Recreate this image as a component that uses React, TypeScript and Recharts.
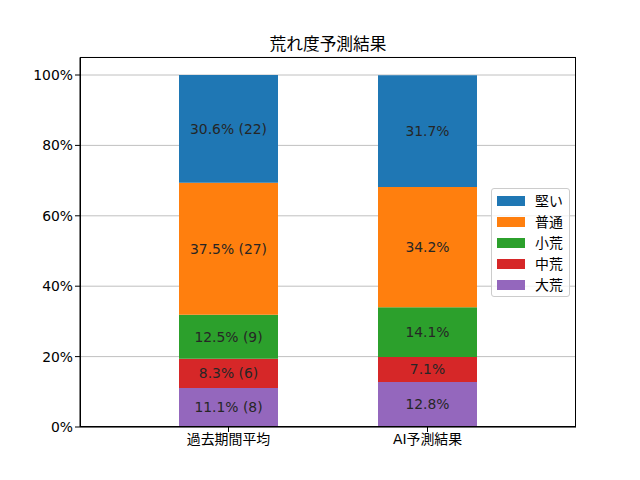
import React from 'react';
import { BarChart, Bar, XAxis, YAxis, CartesianGrid, LabelList } from 'recharts';

const categories = ['過去期間平均', 'AI予測結果'];
const seriesNames = ['大荒', '中荒', '小荒', '普通', '堅い'];
const daiValues = [11.1, 12.8];
const chuValues = [8.3, 7.1];
const shoValues = [12.5, 14.1];
const futsuValues = [37.5, 34.2];
const kataiValues = [30.6, 31.7];
const daiCounts = [8, null];
const chuCounts = [6, null];
const shoCounts = [9, null];
const futsuCounts = [27, null];
const kataiCounts = [22, null];
const yTicks = [0, 20, 40, 60, 80, 100];
const colors = ['#9467bd', '#d62728', '#2ca02c', '#ff7f0e', '#1f77b4'];

const valueSets = [daiValues, chuValues, shoValues, futsuValues, kataiValues];
const countSets = [daiCounts, chuCounts, shoCounts, futsuCounts, kataiCounts];
const keys = ['s0', 's1', 's2', 's3', 's4'];

const data = categories.map((name, i) => {
  const row: any = { name };
  keys.forEach((k, j) => {
    row[k] = valueSets[j][i];
  });
  return row;
});

const FONT = '"DejaVu Sans", "Noto Sans CJK JP", sans-serif';

const makeLabel = (j: number) => (props: any) => {
  const { x, y, width, height, index } = props;
  const v = valueSets[j][index];
  const c = countSets[j][index];
  const text = `${v.toFixed(1)}%` + (c !== null && c !== undefined ? ` (${c})` : '');
  return (
    <text
      x={Number(x) + Number(width) / 2}
      y={Number(y) + Number(height) / 2}
      textAnchor="middle"
      dominantBaseline="central"
      fontSize={13.9}
      fontFamily={FONT}
      fill="#262626"
    >
      {text}
    </text>
  );
};

const LegendBox = () => {
  const order = [4, 3, 2, 1, 0];
  return (
    <div
      style={{
        position: 'absolute',
        left: 491,
        top: 188,
        width: 77,
        height: 107,
        border: '1px solid #cccccc',
        borderRadius: 3,
        background: 'rgba(255,255,255,0.8)',
        fontFamily: FONT,
        fontSize: 13.9,
        color: '#000',
      }}
    >
      {order.map((j, r) => (
        <div
          key={j}
          style={{ position: 'absolute', left: 5, top: 5 + r * 21, height: 14, display: 'flex', alignItems: 'center' }}
        >
          <div style={{ width: 28, height: 10, background: colors[j], marginRight: 10 }} />
          <span style={{ lineHeight: '14px', whiteSpace: 'nowrap' }}>{seriesNames[j]}</span>
        </div>
      ))}
    </div>
  );
};

export default function App() {
  return (
    <div style={{ position: 'absolute', left: 0, top: 0, width: 640, height: 480, background: '#fff' }}>
      <div
        style={{
          position: 'absolute',
          left: 80,
          width: 496,
          top: 33,
          textAlign: 'center',
          fontFamily: FONT,
          fontSize: 16.7,
          color: '#000',
          lineHeight: '22px',
        }}
      >
        荒れ度予測結果
      </div>
      <BarChart
        width={640}
        height={480}
        data={data}
        margin={{ top: 57.4, right: 64, bottom: 0, left: 0 }}
        barCategoryGap={0}
      >
        <CartesianGrid vertical={false} stroke="#b0b0b0" strokeWidth={0.8} />
        <XAxis
          dataKey="name"
          height={53}
          padding={{ left: 49, right: 49 }}
          axisLine={{ stroke: '#000', strokeWidth: 1 }}
          tickLine={{ stroke: '#000' }}
          tickSize={5}
          tick={{ fontSize: 13.9, fontFamily: FONT, fill: '#000' }}
          interval={0}
        />
        <YAxis
          width={80}
          domain={[0, 105]}
          ticks={yTicks}
          allowDataOverflow
          tickFormatter={(v: number) => `${v}%`}
          axisLine={{ stroke: '#000', strokeWidth: 1 }}
          tickLine={{ stroke: '#000' }}
          tickSize={5}
          tick={{ fontSize: 13.9, fontFamily: FONT, fill: '#000' }}
        />
        {keys.map((k, j) => (
          <Bar
            key={k}
            dataKey={k}
            name={seriesNames[j]}
            stackId="a"
            fill={colors[j]}
            barSize={99}
            isAnimationActive={false}
          >
            <LabelList dataKey={k} content={makeLabel(j)} />
          </Bar>
        ))}
      </BarChart>
      <div
        style={{
          position: 'absolute',
          left: 80,
          top: 57.4,
          width: 496,
          height: 369.6,
          border: '1px solid #000',
          boxSizing: 'border-box',
          pointerEvents: 'none',
        }}
      />
      <LegendBox />
    </div>
  );
}
